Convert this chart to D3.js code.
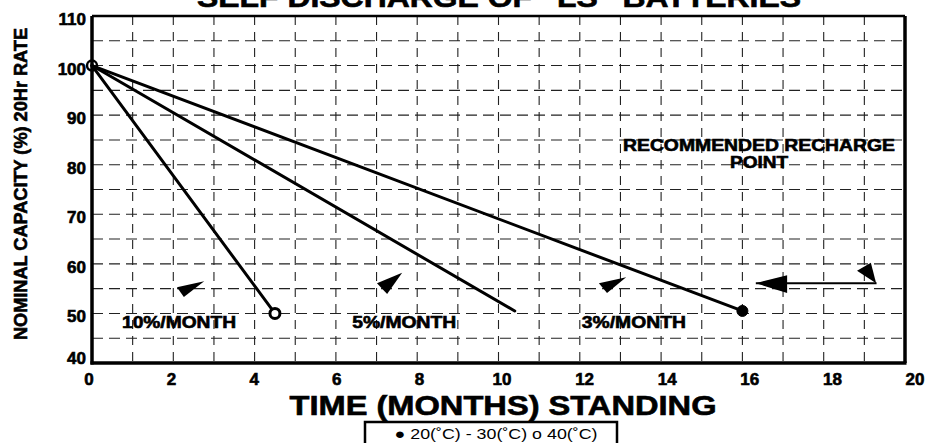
<!DOCTYPE html>
<html>
<head>
<meta charset="utf-8">
<style>
body { margin: 0; background: #fff; }
svg { display: block; }
text { font-family: "Liberation Sans", Arial, Helvetica, sans-serif; fill: #000; }
text.heavy { stroke: #000; stroke-width: 0.6; }
.grid line { stroke: #222; stroke-width: 1.1; }
.rate { fill: none; stroke: #000; stroke-width: 3; stroke-linecap: round; }
</style>
</head>
<body>
<svg width="927" height="443"></svg>
<script src="https://d3js.org/d3.v7.min.js"></script>
<script>

// tick labels / grid
var xTicks = [0, 2, 4, 6, 8, 10, 12, 14, 16, 18, 20];
var yTicks = [40, 50, 60, 70, 80, 90, 100, 110];
var gridMonths = [1, 2, 3, 4, 5, 6, 7, 8, 9, 10, 11, 12, 13, 14, 15, 16, 17, 18, 19];
var gridCapacity = [45, 50, 55, 60, 65, 70, 75, 80, 85, 90, 95, 100, 105];

// discharge lines, all start at (0 months, 100%)
var rateNames = ["10%/MONTH", "5%/MONTH", "3%/MONTH"];
var endMonths = [4.5, 10.4, 16];
var endCapacity = [50, 50.5, 50.5];
var endMarker = ["open", "none", "filled"];

// little pointer heads near the labels (month, capacity)
var pointerHeads = [
  [[2.09, 55.3], [2.76, 56.5], [2.26, 53.3]],
  [[7.01, 56.1], [7.63, 58.2], [7.26, 53.9]],
  [[12.47, 56.1], [13.14, 57.3], [12.67, 54.1]]
];

// recharge point arrow
var rechargeFrom = [19.3, 56.1], rechargeTo = [16.33, 56.1];
var rechargeHead = [[16.33, 56.1], [17.1, 57.7], [17.1, 54.1]];
var rechargeTail = [[18.82, 58.6], [19.16, 60.2], [19.29, 56.1]];

var svg = d3.select("svg");

var x = d3.scaleLinear().domain([0, 20]).range([92, 905]),
    xLab = d3.scaleLinear().domain([0, 20]).range([89, 915]),
    y = d3.scaleLinear().domain([40, 110]).range([363, 16]);

// grid
var grid = svg.append("g").attr("class", "grid");
grid.selectAll(".v").data(gridMonths).enter().append("line")
    .attr("class", "v")
    .attr("x1", function(d) { return x(d); })
    .attr("x2", function(d) { return x(d); })
    .attr("y1", y(110)).attr("y2", y(40))
    .attr("stroke-dasharray", "9,7");
grid.selectAll(".h").data(gridCapacity).enter().append("line")
    .attr("class", "h")
    .attr("y1", function(d) { return y(d); })
    .attr("y2", function(d) { return y(d); })
    .attr("x1", x(0)).attr("x2", x(20))
    .attr("stroke-dasharray", "11,6");

// frame
svg.append("line").attr("x1", x(0)).attr("x2", x(20)).attr("y1", y(110)).attr("y2", y(110))
    .attr("stroke", "#000").attr("stroke-width", 2.5);
svg.append("line").attr("x1", x(20)).attr("x2", x(20)).attr("y1", y(110)).attr("y2", y(40))
    .attr("stroke", "#000").attr("stroke-width", 3.5);
svg.append("line").attr("x1", x(0)).attr("x2", x(0)).attr("y1", y(110)).attr("y2", y(40) + 1.5)
    .attr("stroke", "#000").attr("stroke-width", 3.5);
svg.append("line").attr("x1", x(0) - 1.5).attr("x2", x(20) + 1.5).attr("y1", y(40)).attr("y2", y(40))
    .attr("stroke", "#000").attr("stroke-width", 3.5);

// tick labels
svg.selectAll(".xl").data(xTicks).enter().append("text")
    .attr("class", "xl heavy")
    .attr("x", function(d) { return xLab(d); })
    .attr("y", 385)
    .attr("text-anchor", "middle")
    .style("font-size", "17px").style("font-weight", "bold")
    .text(function(d) { return d; });
svg.selectAll(".yl").data(yTicks).enter().append("text")
    .attr("class", "yl heavy")
    .attr("x", 86)
    .attr("y", function(d) { return y(d) + (d == 40 ? -5 : 3); })
    .attr("dy", "0.35em")
    .attr("text-anchor", "end")
    .style("font-size", "17px").style("font-weight", "bold")
    .text(function(d) { return d; });

// lines
var rates = rateNames.map(function(n, i) {
  return { name: n, pts: [[0, 100], [endMonths[i], endCapacity[i]]], marker: endMarker[i] };
});
var line = d3.line().x(function(d) { return x(d[0]); }).y(function(d) { return y(d[1]); });

svg.selectAll(".rate").data(rates).enter().append("path")
    .attr("class", "rate")
    .attr("d", function(d) { return line(d.pts); });

svg.append("circle").attr("cx", x(0)).attr("cy", y(100)).attr("r", 5)
    .attr("fill", "none").attr("stroke", "#000").attr("stroke-width", 2.5);

svg.selectAll(".endm").data(rates.filter(function(d) { return d.marker != "none"; }))
  .enter().append("circle")
    .attr("class", "endm")
    .attr("cx", function(d) { return x(d.pts[1][0]); })
    .attr("cy", function(d) { return y(d.pts[1][1]); })
    .attr("r", function(d) { return d.marker == "open" ? 5 : 5.5; })
    .attr("fill", function(d) { return d.marker == "open" ? "#fff" : "#000"; })
    .attr("stroke", "#000")
    .attr("stroke-width", function(d) { return d.marker == "open" ? 3 : 1; });

// rate labels
var labelMonths = [2.14, 7.68, 13.33];
svg.selectAll(".rl").data(rates).enter().append("text")
    .attr("class", "rl heavy")
    .attr("x", function(d, i) { return x(labelMonths[i]); })
    .attr("y", y(47))
    .attr("text-anchor", "middle")
    .attr("textLength", function(d, i) { return i == 0 ? 114 : 104; })
    .attr("lengthAdjust", "spacingAndGlyphs")
    .style("font-size", "16px").style("font-weight", "bold")
    .text(function(d) { return d.name; });

// pointer heads
var tri = d3.line().x(function(d) { return x(d[0]); }).y(function(d) { return y(d[1]); }).curve(d3.curveLinearClosed);
svg.selectAll(".ph").data(pointerHeads.concat([rechargeHead, rechargeTail])).enter().append("path")
    .attr("class", "ph")
    .attr("d", tri)
    .attr("fill", "#000");

svg.append("line")
    .attr("x1", x(rechargeFrom[0])).attr("x2", x(rechargeTo[0]))
    .attr("y1", y(rechargeFrom[1])).attr("y2", y(rechargeTo[1]))
    .attr("stroke", "#000").attr("stroke-width", 2);

// recommended recharge point
svg.append("text").attr("x", 759).attr("y", 151)
    .attr("class", "heavy")
    .attr("text-anchor", "middle")
    .attr("textLength", 272).attr("lengthAdjust", "spacingAndGlyphs")
    .style("font-size", "16px").style("font-weight", "bold")
    .text("RECOMMENDED RECHARGE");
svg.append("text").attr("x", 759).attr("y", 168)
    .attr("class", "heavy")
    .attr("text-anchor", "middle")
    .attr("textLength", 58).attr("lengthAdjust", "spacingAndGlyphs")
    .style("font-size", "16px").style("font-weight", "bold")
    .text("POINT");

// titles
svg.append("text").attr("x", 499).attr("y", 7)
    .attr("class", "heavy")
    .attr("text-anchor", "middle")
    .attr("textLength", 604).attr("lengthAdjust", "spacingAndGlyphs")
    .style("font-size", "27px").style("font-weight", "bold")
    .text("SELF DISCHARGE OF \u201CLS\u201D BATTERIES");

svg.append("text").attr("x", 503).attr("y", 415)
    .attr("class", "heavy")
    .attr("text-anchor", "middle")
    .attr("textLength", 427).attr("lengthAdjust", "spacingAndGlyphs")
    .style("font-size", "27px").style("font-weight", "bold")
    .text("TIME (MONTHS) STANDING");

svg.append("text")
    .attr("class", "heavy")
    .attr("transform", "translate(27,184) rotate(-90)")
    .attr("text-anchor", "middle")
    .attr("textLength", 312).attr("lengthAdjust", "spacingAndGlyphs")
    .style("font-size", "18px").style("font-weight", "bold")
    .text("NOMINAL CAPACITY (%) 20Hr RATE");

// legend box
svg.append("rect").attr("x", 365).attr("y", 422).attr("width", 252).attr("height", 40)
    .attr("fill", "none").attr("stroke", "#000").attr("stroke-width", 2.5);
svg.append("text").attr("x", 496).attr("y", 439)
    .attr("text-anchor", "middle")
    .attr("textLength", 203).attr("lengthAdjust", "spacingAndGlyphs")
    .style("font-size", "15px")
    .text("\u25CF 20(\u02DAC) - 30(\u02DAC) o 40(\u02DAC)");

</script>
</body>
</html>
